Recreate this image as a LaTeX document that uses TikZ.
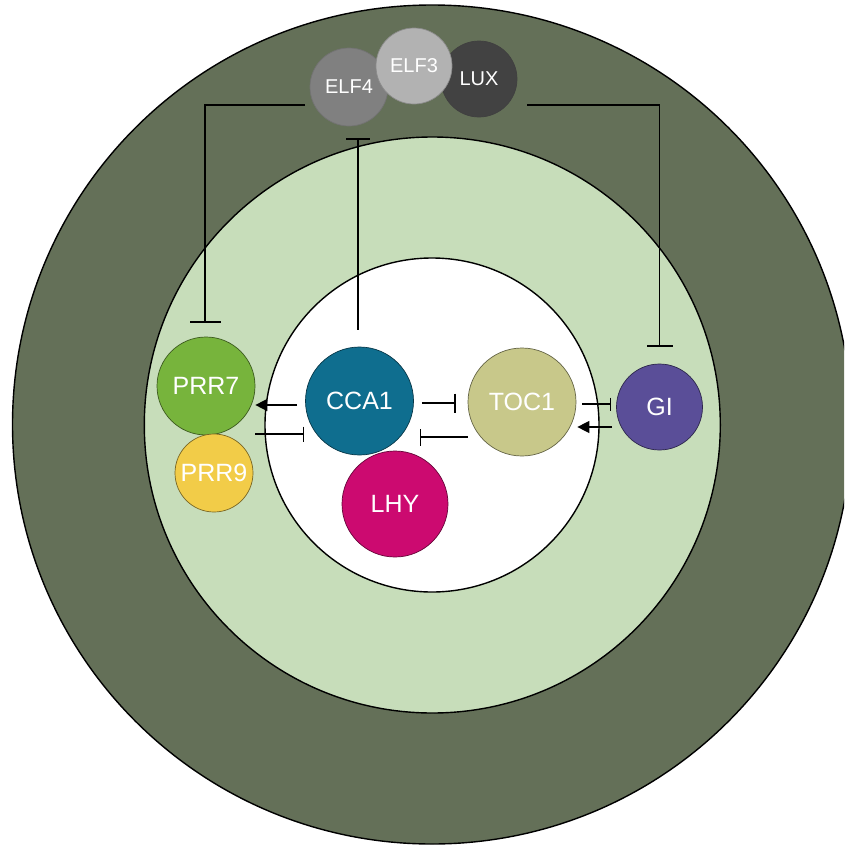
\documentclass[tikz,border=0pt]{standalone}
\usepackage{fontspec}
\setmainfont{Liberation Sans}
\usetikzlibrary{arrows.meta,calc}
\definecolor{outerG}{RGB}{100,112,88}
\definecolor{innerG}{RGB}{199,221,186}
\definecolor{cElfF}{RGB}{128,128,128}
\definecolor{cElfT}{RGB}{178,178,178}
\definecolor{cLux}{RGB}{66,66,66}
\definecolor{cPrrS}{RGB}{119,180,60}
\definecolor{cPrrN}{RGB}{242,204,72}
\definecolor{cCca}{RGB}{15,110,143}
\definecolor{cLhy}{RGB}{204,10,112}
\definecolor{cToc}{RGB}{200,200,138}
\definecolor{cGi}{RGB}{90,78,152}
\tikzset{
  gene/.style={circle, inner sep=0pt, text=white, line width=0.7pt, font=\fontsize{25}{28}\selectfont},
  small/.style={gene, font=\fontsize{20}{23}\selectfont},
  inh/.style={line width=1.4pt, -{Bar[width=#1, line width=1.4pt]}},
  act/.style={line width=1.4pt, -{Triangle[length=12pt,width=12pt]}},
  ring/.style={line width=1.4pt, draw=black}
}
\begin{document}
\begin{tikzpicture}[x=1pt,y=-1pt]
\useasboundingbox (0,0) rectangle (844,846);
\clip (0,0) rectangle (844,846);
\fill[white] (0,0) rectangle (844,846);
\draw[ring, fill=outerG] (432,424.5) circle (419.5);
\draw[ring, fill=innerG] (432.3,425) circle (288);
\draw[ring, fill=white] (432,425) circle (167);

% top complex
\node[small, fill=cElfF, draw=black!55, minimum size=78pt] (ELF4) at (349,87) {ELF4};
\node[small, fill=cLux, draw=black!75, minimum size=76pt] (LUX) at (479,79) {LUX};
\node[small, fill=cElfT, draw=black!45, minimum size=76pt] (ELF3) at (414,66) {ELF3};

% genes
\node[gene, fill=cPrrS, draw=black!50!cPrrS, minimum size=98pt] (PRR7) at (206,386) {PRR7};
\node[gene, fill=cPrrN, draw=black!50!cPrrN, minimum size=78pt] (PRR9) at (214,473) {PRR9};
\node[gene, fill=cCca, draw=black!50!cCca, minimum size=108pt] (CCA1) at (359.5,401) {CCA1};
\node[gene, fill=cLhy, draw=black!50!cLhy, minimum size=106pt] (LHY) at (395,504) {LHY};
\node[gene, fill=cToc, draw=black!50!cToc, minimum size=108pt] (TOC1) at (522,402) {TOC1};
\node[gene, fill=cGi, draw=black!50!cGi, minimum size=86pt] (GI) at (659.5,407) {GI};

% long inhibitions from the evening complex
\draw[inh=31pt] ($(ELF4)+(-44,18)$) -| ($(PRR7.north)+(-1,-14)$);
\draw[inh=26pt] ($(LUX)+(48,26)$) -| ($(GI.north)+(0,-17)$);
\draw[inh=24pt] ($(CCA1.north)+(-1.5,-17)$) -- ($(CCA1.north |- ELF4.south)+(-1.5,12)$);

% core interactions
\draw[act] ($(CCA1.west)+(-8,4)$) -- ($(PRR7.east)+(0,19)$);
\draw[inh=15pt] ($(PRR7.east)+(0,48)$) -- ($(CCA1.west)+(-1,33)$);
\draw[inh=19pt] ($(CCA1.east)+(8,2)$) -- ($(TOC1.west)+(-12,1)$);
\draw[inh=17pt] ($(TOC1.west)+(0,35)$) -- ($(CCA1.east)+(6,36)$);
\draw[inh=13pt] ($(TOC1.east)+(6,2)$) -- ($(GI.west)+(-5,-3)$);
\draw[act] ($(GI.west)+(-4,20)$) -- ($(TOC1.east)+(1,25)$);
\end{tikzpicture}
\end{document}
